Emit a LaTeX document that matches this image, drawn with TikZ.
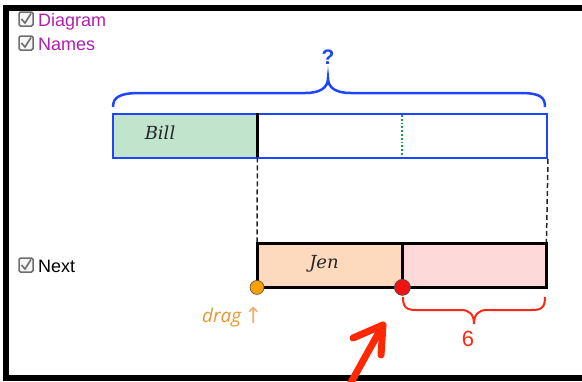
\documentclass[tikz,border=0pt]{standalone}
\usepackage{fontspec}
\setmainfont{Liberation Sans}
\newfontfamily\serifit{DejaVu Serif}
\newfontfamily\dejavu{DejaVu Sans}
\newfontfamily\opensans{Open Sans}
\definecolor{magtext}{RGB}{176,32,176}
\definecolor{boxgray}{RGB}{110,110,110}
\definecolor{barblue}{RGB}{30,70,255}
\definecolor{billgreen}{RGB}{192,229,204}
\definecolor{dotgreen}{RGB}{20,160,60}
\definecolor{jenpeach}{RGB}{253,218,190}
\definecolor{restpink}{RGB}{253,217,217}
\definecolor{dotorange}{RGB}{250,160,0}
\definecolor{dragorange}{RGB}{232,150,50}
\definecolor{dotred}{RGB}{238,20,20}
\definecolor{bracered}{RGB}{255,40,20}
\definecolor{arrowred}{RGB}{255,40,0}
\tikzset{
  cbox/.style={draw=boxgray, fill=black!4, line width=1.5pt, rounded corners=1.5pt, minimum size=14pt, inner sep=0pt},
  chkbox/.pic={\node[cbox] (-b) {}; \draw[boxgray, line width=1.6pt] (-4.5,0) -- (-1,4) -- (5,-5.5);},
  lbl/.style={anchor=base west, inner sep=0pt, font=\fontsize{18}{18}\selectfont},
  seg/.style={minimum height=44pt, inner sep=0pt, anchor=north west},
  guide/.style={line width=1.5pt, dash pattern=on 5pt off 3pt, black!85},
  dot/.style={circle, draw=black!70, line width=0.6pt, inner sep=0pt},
  barlabel/.style={font=\serifit\itshape\fontsize{18}{18}\selectfont, text=black!85}
}
\begin{document}
\begin{tikzpicture}[x=1pt,y=-1pt]
\useasboundingbox (0,0) rectangle (582,381);
\fill[white] (0,0) rectangle (582,381);
% frame
\draw[line width=5.5pt] (582,8) -- (6,8) -- (6,378) -- (582,378);
% checkboxes
\pic (cdiag) at (26,19) {chkbox};
\pic (cname) at (26,43) {chkbox};
\pic (cnext) at (26,265) {chkbox};
\node[lbl, text=magtext] (tdiag) at (38,26) {Diagram};
\node[lbl, text=magtext] (tname) at (38,50) {Names};
\node[lbl] (tnext) at (38,272) {Next};
% Bill bar
\node[seg, fill=billgreen, minimum width=145pt] (billpart) at (112,113) {};
\node[seg, draw=barblue, line width=2pt, minimum width=434pt] (billbar) at (112,113) {};
\draw[dotgreen, line width=1.8pt, dotted] (402,115) -- (402,156);
\draw[line width=3pt] (billpart.north east) -- (billpart.south east);
\node[barlabel] (billtxt) at (160,133) {Bill};
% blue brace
\draw[barblue, line width=2.5pt] (113,107) .. controls (113,97) and (120,93) .. (140,93) -- (305,93)
  .. controls (320,93) and (328,88) .. (328,78) .. controls (328,88) and (336,93) .. (351,93)
  -- (520,93) .. controls (540,93) and (545,97) .. (545,107);
\node[text=barblue, font=\bfseries\fontsize{21}{21}\selectfont] (q) at (328,57) {?};
% Jen bar
\node[seg, fill=jenpeach, minimum width=145pt] (jen) at (257,243) {};
\node[seg, fill=restpink, minimum width=144pt] (rest) at (402,243) {};
\draw[guide] (billpart.south east) -- (jen.north west);
\draw[guide] (billbar.south east) -- (rest.north east);
\draw[line width=3pt] (jen.north west) rectangle (rest.south east);
\draw[line width=3pt] (jen.north east) -- (jen.south east);
\node[barlabel] (jentxt) at (324,264) {Jen};
% dots
\node[dot, fill=dotorange, minimum size=14pt] (odot) at (jen.south west) {};
\node[dot, fill=dotred, minimum size=16pt] (rdot) at (jen.south east) {};
\node[anchor=base west, inner sep=0pt, text=dragorange, font=\opensans\itshape\fontsize{19}{19}\selectfont] (drag) at (202,322) {drag};
\node[anchor=base west, inner sep=0pt, text=dragorange!75, font=\dejavu\fontsize{22}{22}\selectfont] (up) at (244,323) {↑};
% red brace
\draw[bracered, line width=2pt] (403,297) .. controls (403,307) and (406,310) .. (416,310) -- (461,310)
  .. controls (470,310) and (474,315) .. (474,324) .. controls (474,315) and (478,310) .. (487,310)
  -- (532,310) .. controls (542,310) and (545,307) .. (545,297);
\node[text=bracered, font=\fontsize{22}{22}\selectfont] (six) at (468,339) {6};
% red arrow
\coordinate (atail) at (349,386);
\coordinate (atip) at (383,325);
\draw[arrowred, line width=7pt, line cap=round] (atail) -- (atip);
\draw[arrowred, line width=7pt, line cap=round, line join=round] (353,338) -- (atip) -- (381,355);
\end{tikzpicture}
\end{document}
